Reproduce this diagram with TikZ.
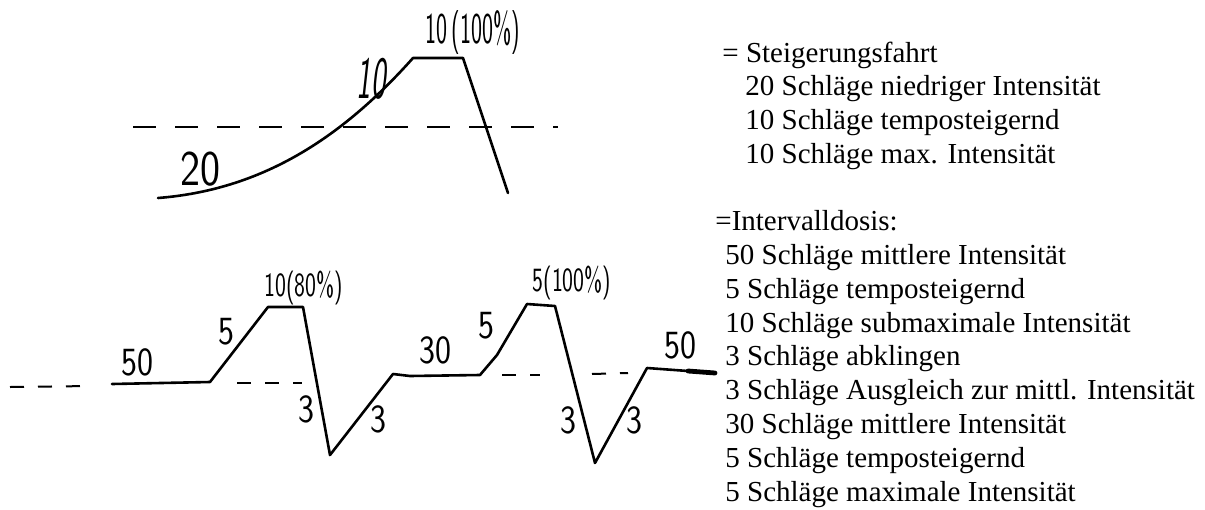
\documentclass[tikz,border=0pt]{standalone}
\usepackage{fontspec}
\setmainfont{Liberation Serif}
\tikzset{
  penline/.style={line width=1.3pt,line join=round,line cap=round},
  refline/.style={line width=1pt,dash pattern=on 11.5pt off 9.5pt},
  shortref/.style={line width=1pt,dash pattern=on 7pt off 7pt},
  handlabel/.style={inner sep=0pt,font=\sffamily\fontsize{20}{20}\selectfont,xscale=0.85},
  pctlabel/.style={inner sep=0pt,font=\sffamily\fontsize{17}{17}\selectfont,xscale=0.68},
  legendline/.style={anchor=base west,inner sep=0pt,font=\fontsize{14.5}{17}\selectfont}
}
\begin{document}
\begin{tikzpicture}[x=0.5pt,y=-0.5pt]
  \useasboundingbox (0,0) rectangle (1205,509);

  % Steigerungsfahrt
  \coordinate (ts) at (158,198);
  \coordinate (tp) at (413,58);
  \coordinate (tq) at (463,58);
  \coordinate (te) at (508,193);
  \coordinate (rl) at (133,127);
  \coordinate (rr) at (558,127);
  \draw[refline] (rl) -- (rr);
  \draw[penline] (ts) .. controls (260,190) and (340,140) .. (tp) -- (tq) -- (te);
  \node[handlabel,font=\sffamily\fontsize{25}{25}\selectfont] (t20) at (200,169) {20};
  \node[handlabel,font=\sffamily\slshape\fontsize{30}{30}\selectfont,xscale=0.6] (t10) at (371,79) {10};
  \node[pctlabel,font=\sffamily\fontsize{22}{22}\selectfont,xscale=0.78] (tmax) at (473,33) {10\,(100\%)};

  % Intervalldosis
  \coordinate (b0) at (112,384);
  \coordinate (b1) at (210,382);
  \coordinate (b2) at (268,307);
  \coordinate (b3) at (303,307);
  \coordinate (b4) at (330,455);
  \coordinate (b5) at (393,374);
  \coordinate (b6) at (410,376);
  \coordinate (b7) at (480,375);
  \coordinate (b8) at (497,355);
  \coordinate (b9) at (527,304);
  \coordinate (b10) at (555,306);
  \coordinate (b11) at (595,463);
  \coordinate (b12) at (647,368);
  \coordinate (b13) at (688,371);
  \coordinate (b14) at (715,373);
  \draw[penline] (b0) -- (b1) -- (b2) -- (b3) -- (b4) -- (b5) -- (b6) -- (b7)
    -- (b8) -- (b9) -- (b10) -- (b11) -- (b12) -- (b13);
  \draw[line width=2.4pt,line cap=round] (b13) -- (b14);

  \coordinate (d0) at (10,387);
  \coordinate (d1) at (92,386);
  \coordinate (d2) at (237,383);
  \coordinate (d3) at (302,383);
  \coordinate (d4) at (502,375);
  \coordinate (d5) at (540,375);
  \coordinate (d6) at (592,374);
  \coordinate (d7) at (628,373);
  \draw[shortref] (d0) -- (d1);
  \draw[shortref] (d2) -- (d3);
  \draw[shortref] (d4) -- (d5);
  \draw[shortref] (d6) -- (d7);

  \node[handlabel] (b50) at (137,362) {50};
  \node[handlabel] (b5a) at (226,332) {5};
  \node[pctlabel] (bsub) at (304,288) {10(80\%)};
  \node[handlabel] (b3a) at (306,409) {3};
  \node[handlabel] (b3b) at (378,419) {3};
  \node[handlabel] (b30) at (435,350) {30};
  \node[handlabel] (b5b) at (486,326) {5};
  \node[pctlabel] (bmax) at (572,283) {5(100\%)};
  \node[handlabel] (b3c) at (568,420) {3};
  \node[handlabel] (b3d) at (634,420) {3};
  \node[handlabel] (b50b) at (680,345) {50};

  % Legende
  \foreach \k/\x/\t in {0/722/{= Steigerungsfahrt},
      1/745/{20 Schläge niedriger Intensität},
      2/745/{10 Schläge temposteigernd},
      3/745/{10 Schläge max. Intensität},
      5/715/{=Intervalldosis:},
      6/725/{50 Schläge mittlere Intensität},
      7/725/{5 Schläge temposteigernd},
      8/725/{10 Schläge submaximale Intensität},
      9/725/{3 Schläge abklingen},
      10/725/{3 Schläge Ausgleich zur mittl. Intensität},
      11/725/{30 Schläge mittlere Intensität},
      12/725/{5 Schläge temposteigernd},
      13/725/{5 Schläge maximale Intensität}}
    \node[legendline] (leg\k) at (\x,62+33.77*\k) {\t};
\end{tikzpicture}
\end{document}
